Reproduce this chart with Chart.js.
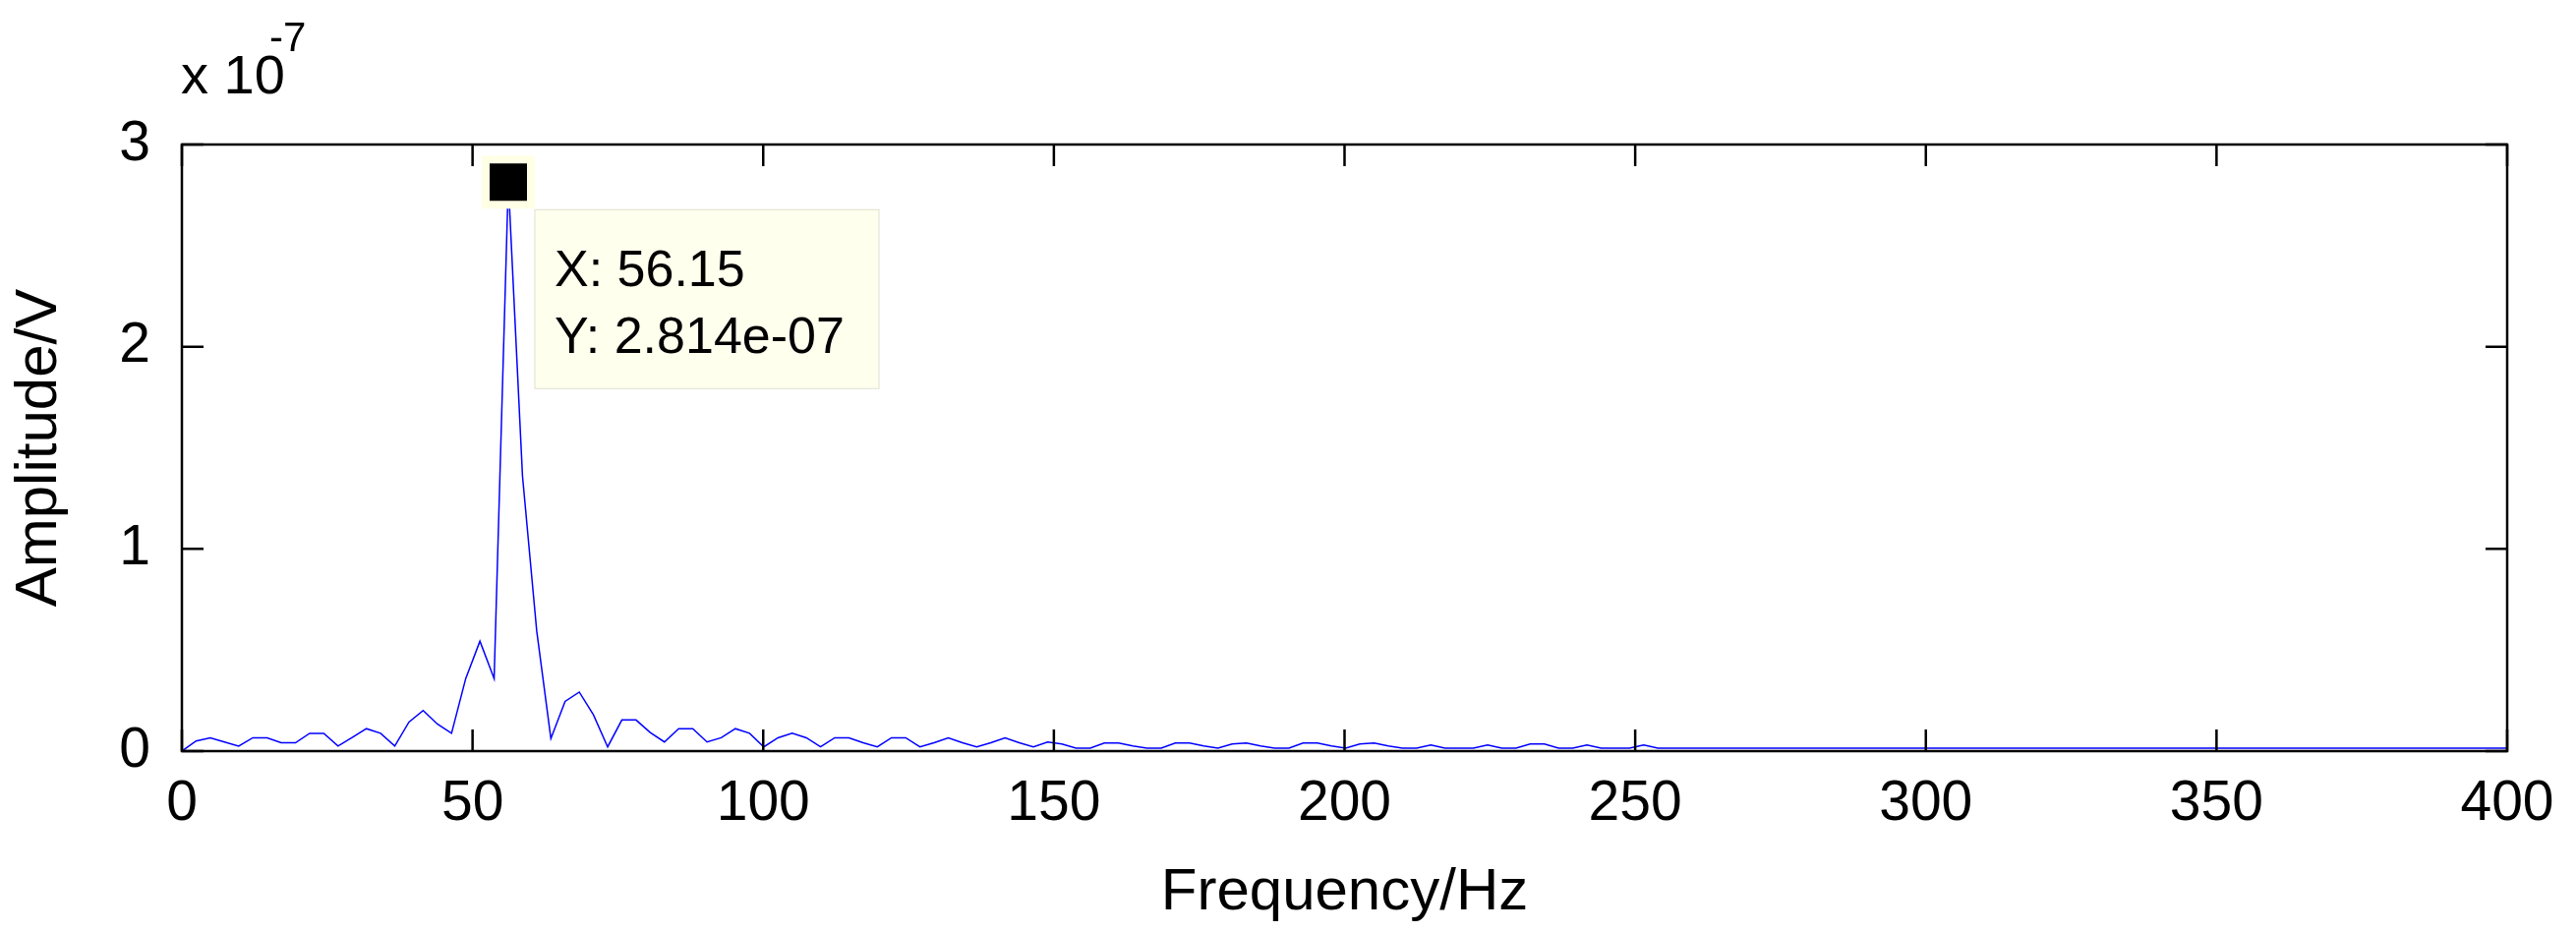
<!DOCTYPE html>
<html><head><meta charset="utf-8">
<script src="https://cdn.jsdelivr.net/npm/chart.js@4"></script>
<style>html,body{margin:0;padding:0;background:#fff}#w{width:2620px;height:948px}</style>
</head><body><div id="w"><canvas id="c"></canvas></div>
<script>
const freqStep = 2.4414; // Hz per FFT bin
// amplitude per bin, units of 1e-7 V
const amplitude = [
0,.05,.066,.045,.025,.066,.066,.041,.041,.088,.088,.025,.068,.111,.088,.025,.144,.201,.134,.088,
.359,.544,.359,2.814,1.36,.595,.062,.246,.292,.179,.021,.154,.154,.092,.045,.111,.111,.045,.066,.111,
.088,.021,.066,.088,.066,.021,.066,.066,.041,.021,.066,.066,.021,.041,.066,.041,.021,.041,.066,.041,
.021,.045,.035,.015,.015,.04,.04,.025,.015,.015,.04,.04,.025,.015,.035,.04,.025,.015,.015,.04,
.04,.025,.015,.035,.04,.025,.015,.015,.03,.015,.015,.015,.03,.015,.015,.035,.035,.015,.015,.03,
.015,.015,.015,.03,.015,.015,.015,.015,.015,.015,.015,.015,.015,.015,.015,.015,.015,.015,.015,.015,
.015,.015,.015,.015,.015,.015,.015,.015,.015,.015,.015,.015,.015,.015,.015,.015,.015,.015,.015,.015,
.015,.015,.015,.015,.015,.015,.015,.015,.015,.015,.015,.015,.015,.015,.015,.015,.015,.015,.015,.015,
.015,.015,.015,.015,.015,.015];
const xTicks = [0,50,100,150,200,250,300,350,400];
const yTicks = [0,1,2,3];
const tipX = 56.15, tipY = 2.814;
const tipLines = ['X: 56.15','Y: 2.814e-07'];
const xTitle = 'Frequency/Hz', yTitle = 'Amplitude/V', yExp = '-7';

const pts = amplitude.map((a,i)=>({x:i*freqStep,y:a})).filter(p=>p.x<=401);
const F = 'Liberation Sans, Arial, sans-serif';

const deco = {
  id:'deco',
  afterDraw(ch){
    const c=ch.ctx, a=ch.chartArea, xs=ch.scales.x, ys=ch.scales.y;
    c.save();
    c.strokeStyle='#000'; c.lineWidth=2.5;
    c.strokeRect(a.left,a.top,a.right-a.left,a.bottom-a.top);
    const tl=22;
    c.beginPath();
    xTicks.forEach(v=>{const px=xs.getPixelForValue(v);
      c.moveTo(px,a.bottom);c.lineTo(px,a.bottom-tl);c.moveTo(px,a.top);c.lineTo(px,a.top+tl);});
    yTicks.forEach(v=>{const py=ys.getPixelForValue(v);
      c.moveTo(a.left,py);c.lineTo(a.left+tl,py);c.moveTo(a.right,py);c.lineTo(a.right-tl,py);});
    c.stroke();
    c.fillStyle='#000'; c.textBaseline='alphabetic'; c.textAlign='left';
    c.font='56px '+F; c.fillText('x 10',184,95);
    c.font='42px '+F; c.fillText(yExp,274,52);
    const px=xs.getPixelForValue(tipX), py=ys.getPixelForValue(tipY);
    c.fillStyle='#ffffe6'; c.fillRect(px-27,py-27,54,54);
    c.fillStyle='#000'; c.fillRect(px-19,py-19,38,38);
    const bx=px+27, by=py+28;
    c.fillStyle='#ffffee'; c.fillRect(bx,by,350,182);
    c.strokeStyle='#e0e0d0'; c.lineWidth=1; c.strokeRect(bx,by,350,182);
    c.fillStyle='#000'; c.font='52px '+F;
    c.fillText(tipLines[0],bx+20,by+78);
    c.fillText(tipLines[1],bx+20,by+146);
    c.restore();
  }
};

new Chart(document.getElementById('c'),{
  type:'line',
  data:{datasets:[{data:pts,borderColor:'#0000ff',borderWidth:1.5,pointRadius:0,tension:0}]},
  options:{
    responsive:true,maintainAspectRatio:false,animation:false,
    plugins:{legend:{display:false},tooltip:{enabled:false}},
    layout:{padding:{left:0,top:147,right:70,bottom:0}},
    scales:{
      x:{type:'linear',min:0,max:400,
        afterFit(s){s.height=184;},
        afterBuildTicks(s){s.ticks=xTicks.map(v=>({value:v}));},
        grid:{display:false},border:{display:false},
        ticks:{color:'#000',font:{family:F,size:57},padding:12,maxRotation:0},
        title:{display:true,text:xTitle,color:'#000',font:{family:F,size:60},padding:{top:0}}},
      y:{min:0,max:3,
        afterFit(s){s.width=185;},
        afterBuildTicks(s){s.ticks=yTicks.map(v=>({value:v}));},
        grid:{display:false},border:{display:false},
        ticks:{color:'#000',font:{family:F,size:57},padding:24},
        title:{display:true,text:yTitle,color:'#000',font:{family:F,size:60},padding:{bottom:0}}}
    }
  },
  plugins:[deco]
});
</script></body></html>
